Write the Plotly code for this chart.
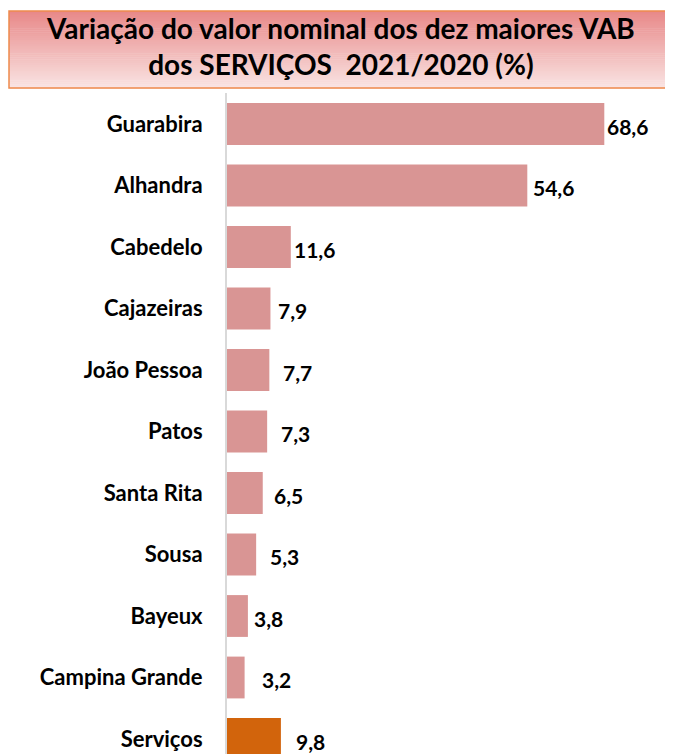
"""
Variação do valor nominal dos dez maiores VAB dos serviços 2021/2020
"""

import plotly.graph_objects as go

municipios = ['Guarabira', 'Alhandra', 'Cabedelo', 'Cajazeiras', 'João Pessoa',
              'Patos', 'Santa Rita', 'Sousa', 'Bayeux', 'Campina Grande', 'Serviços']
variacao = [68.6, 54.6, 11.6, 7.9, 7.7, 7.3, 6.5, 5.3, 3.8, 3.2, 9.8]

COR_BARRA = '#D99594'
COR_TOTAL = '#D2640C'
FONTE = 'Lato'

# a página tem 8px de margem no body, por isso tudo vai deslocado
W, H = 673, 754
ML, MT = 219, 85
PW, PH = W - ML, H - MT
PASSO = 61.5  # px por categoria

# afastamento (px) de cada rótulo em relação ao fim da barra, como no original
afastamento = [3, 6, 3, 8, 14, 14, 11, 14, 6, 17, 15]

cores = [COR_BARRA] * (len(municipios) - 1) + [COR_TOTAL]

fig = go.Figure()
fig.add_trace(go.Bar(
    y=municipios,
    x=variacao,
    orientation='h',
    marker=dict(color=cores, line=dict(width=0)),
    hoverinfo='skip',
))

for m, v, d in zip(municipios, variacao, afastamento):
    fig.add_annotation(
        x=v, y=m, text=f'{v:.1f}'.replace('.', ','),
        showarrow=False, xanchor='left', yanchor='middle',
        xshift=d - 2, yshift=-2,
        font=dict(family=FONTE, size=21, color='black', weight='bold'),
    )


def px_x(p):
    return (p - ML) / PW


def px_y(p):
    return 1 + (MT - p) / PH


# caixa do título com degradê
x0, x1 = px_x(1), px_x(690)
top, bot = 3, 80
topo = (0xE8, 0x89, 0x89)
base = (0xF9, 0xE3, 0xE2)
n = 40
for i in range(n):
    t = i / (n - 1)
    c = tuple(round(topo[k] + (base[k] - topo[k]) * t) for k in range(3))
    ya = top + (bot - top) * i / n
    yb = top + (bot - top) * (i + 1) / n + 0.5
    fig.add_shape(type='rect', xref='paper', yref='paper',
                  x0=x0, x1=x1, y0=px_y(yb), y1=px_y(ya),
                  fillcolor='rgb(%d,%d,%d)' % c, line=dict(width=0), layer='below')
fig.add_shape(type='rect', xref='paper', yref='paper',
              x0=x0, x1=x1, y0=px_y(bot), y1=px_y(top),
              line=dict(color='#EE8A4C', width=1.5))

fig.add_annotation(
    xref='paper', yref='paper', x=px_x(332), y=px_y(38.5),
    text='Variação do valor nominal dos dez maiores VAB<br>dos SERVIÇOS  2021/2020 (%)',
    showarrow=False, xanchor='center', yanchor='middle',
    font=dict(family=FONTE, size=28, color='black', weight='bold'),
)

topo_idx = -0.504
fig.update_layout(
    width=W, height=H,
    margin=dict(l=ML, r=0, t=MT, b=0),
    plot_bgcolor='white', paper_bgcolor='white',
    showlegend=False,
    bargap=0.32,
    xaxis=dict(visible=False, range=[0, PW / 5.5]),
    yaxis=dict(
        categoryorder='array', categoryarray=municipios,
        range=[topo_idx + PH / PASSO, topo_idx],
        showline=True, linecolor='#D9D9D9', linewidth=2,
        showgrid=False, ticks='', ticklabelstandoff=18,
        tickfont=dict(family=FONTE, size=22, color='black', weight='bold'),
    ),
)

fig.write_html("out.html")
